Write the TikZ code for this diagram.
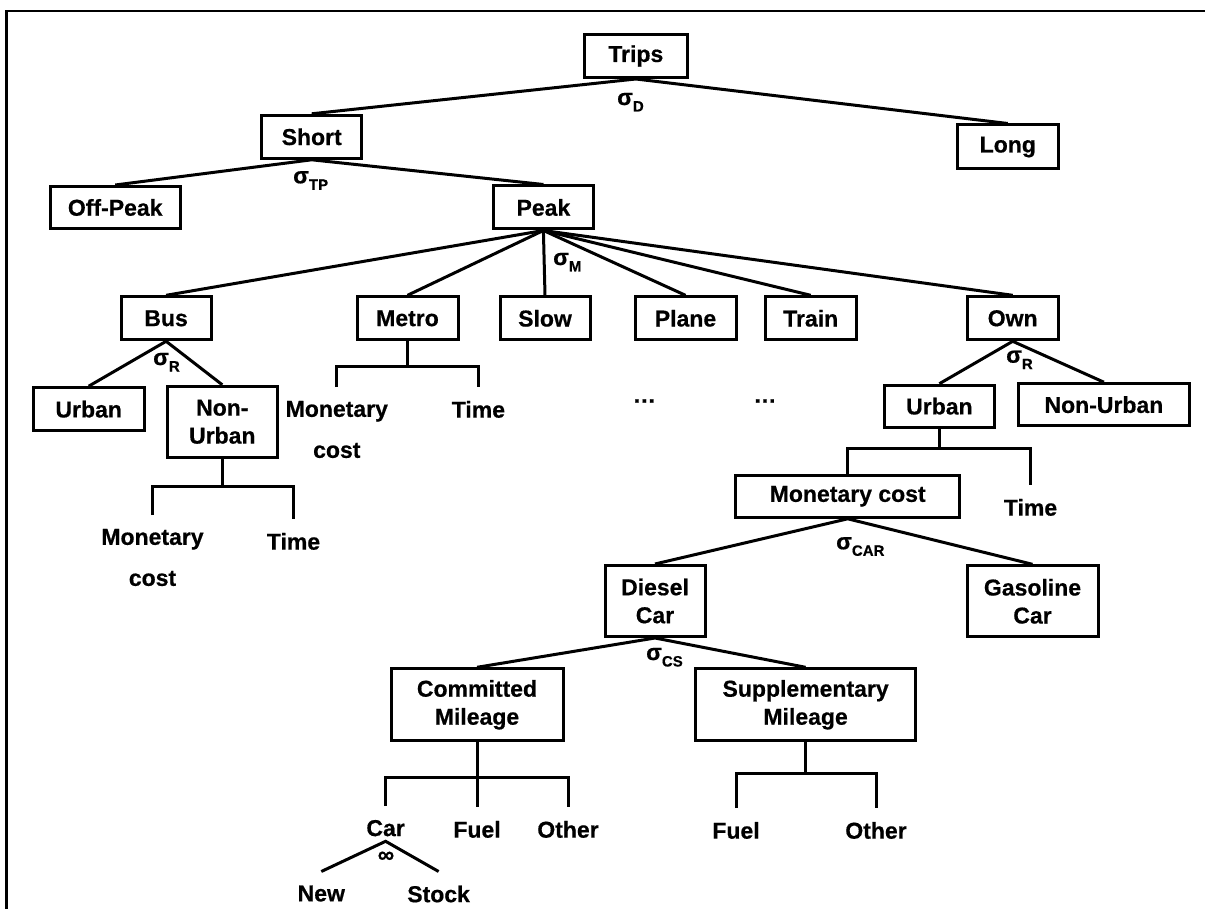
\documentclass[tikz,border=0pt]{standalone}
\usepackage{fontspec}
\setmainfont{Liberation Sans}[BoldFeatures={FakeBold=0.6}]
\newcommand{\fs}{\fontsize{23}{28}\selectfont\bfseries}
\newcommand{\fst}{\fontsize{23}{41}\selectfont\bfseries}
\newcommand{\sgm}[1]{σ\raisebox{-6.5pt}{\fontsize{15}{15}\selectfont\bfseries #1}}
\tikzset{
  bx/.style={draw, line width=3pt, inner sep=0pt, font=\fs, align=center},
  txt/.style={inner sep=0pt, outer ysep=14pt, font=\fst, align=center, anchor=north},
  lbl/.style={inner sep=0pt, font=\fs, anchor=base west},
  ln/.style={line width=3pt},
}
\begin{document}
\begin{tikzpicture}[x=1pt,y=-1pt]
\useasboundingbox (0,0) rectangle (1205,909);
\draw[line width=2.5pt] (1205,11) -- (6.5,11) -- (6.5,909);

% boxes
\node[bx, minimum width=103pt, minimum height=43pt] (trips) at (635.8,56) {Trips};
\node[bx, minimum width=100pt, minimum height=43pt] (short) at (311.7,136.8) {Short};
\node[bx, minimum width=101pt, minimum height=44pt] (long) at (1007.8,147) {Long};
\node[bx, minimum width=130pt, minimum height=42pt] (offpeak) at (115.2,207.5) {Off-Peak};
\node[bx, minimum width=100pt, minimum height=43pt] (peak) at (543.4,207.5) {Peak};
\node[bx, minimum width=90pt, minimum height=43pt] (bus) at (166.1,318.3) {Bus};
\node[bx, minimum width=101pt, minimum height=43pt] (metro) at (407.5,318.3) {Metro};
\node[bx, minimum width=90pt, minimum height=43pt] (slow) at (545,318.3) {Slow};
\node[bx, minimum width=101pt, minimum height=43pt] (plane) at (685.5,318.3) {Plane};
\node[bx, minimum width=91pt, minimum height=43pt] (train) at (810.7,318.3) {Train};
\node[bx, minimum width=91pt, minimum height=43pt] (own) at (1012.7,318.3) {Own};
\node[bx, minimum width=111pt, minimum height=43pt] (burban) at (88.7,409.2) {Urban};
\node[bx, minimum width=110pt, minimum height=71pt] (bnonurban) at (222.3,421.8) {Non-\\Urban};
\node[bx, minimum width=110pt, minimum height=42pt] (ourban) at (939.4,406.2) {Urban};
\node[bx, minimum width=171pt, minimum height=42pt] (ononurban) at (1103.9,404.7) {Non-Urban};
\node[bx, minimum width=224pt, minimum height=42pt] (mc) at (847.7,496.3) {Monetary cost};
\node[bx, minimum width=100pt, minimum height=71pt] (diesel) at (655,601) {Diesel\\Car};
\node[bx, minimum width=131pt, minimum height=71pt] (gasoline) at (1032.5,601.3) {Gasoline\\Car};
\node[bx, minimum width=172pt, minimum height=72pt] (committed) at (477,704.8) {Committed\\Mileage};
\node[bx, minimum width=220pt, minimum height=72pt] (supp) at (805.6,704.8) {Supplementary\\Mileage};

% plain text leaves
\node[txt] (bmc) at (152.5,515) {Monetary\\cost};
\node[txt] (btime) at (293.5,519) {Time};
\node[txt] (mmc) at (336.8,387) {Monetary\\cost};
\node[txt] (mtime) at (478.4,387) {Time};
\node[txt] (otime) at (1030.5,485) {Time};
\node[txt] (car) at (385.6,806) {Car};
\node[txt] (fuel1) at (477,807) {Fuel};
\node[txt] (other1) at (568,807) {Other};
\node[txt] (fuel2) at (736,808) {Fuel};
\node[txt] (other2) at (876,808) {Other};
\node[txt] (new) at (321.3,871.5) {New};
\node[txt] (stock) at (438.6,871.5) {Stock};
\node[inner sep=0pt, font=\fs] (dots1) at (644.4,401) {…};
\node[inner sep=0pt, font=\fs] (dots2) at (765,401) {…};

% labels
\node[lbl] (sD) at (617,105) {\sgm{D}};
\node[lbl] (sTP) at (293,183.3) {\sgm{TP}};
\node[lbl] (sM) at (553,265) {\sgm{M}};
\node[lbl] (sR1) at (153,365) {\sgm{R}};
\node[lbl] (sR2) at (1006,362.7) {\sgm{R}};
\node[lbl] (sCAR) at (836,549.3) {\sgm{CAR}};
\node[lbl] (sCS) at (646,660) {\sgm{CS}};
\node[inner sep=0pt, font=\fs] (inf) at (386,857) {∞};

% connectors
\draw[ln] (short.north) -- (trips.south) -- (long.north);
\draw[ln] (offpeak.north) -- (short.south) -- (peak.north);
\foreach \c in {bus,metro,slow,plane,train,own} \draw[ln] (peak.south) -- (\c.north);
\draw[ln] (burban.north) -- (bus.south) -- (bnonurban.north);
\draw[ln] (ourban.north) -- (own.south) -- (ononurban.north);
\draw[ln] (diesel.north) -- (mc.south) -- (gasoline.north);
\draw[ln] (committed.north) -- (diesel.south) -- (supp.north);
\draw[ln] (new.north) -- ([yshift=9pt]car.south) -- (stock.north);

\coordinate (b1) at (222.3,486.7);
\draw[ln] (bnonurban.south) -- (b1);
\draw[ln] (bmc.north) |- (b1) -| (btime.north);
\coordinate (b2) at (407.5,366.5);
\draw[ln] (metro.south) -- (b2);
\draw[ln] (mmc.north) |- (b2) -| (mtime.north);
\coordinate (b3) at (939.4,448.3);
\draw[ln] (ourban.south) -- (b3);
\draw[ln] (mc.north) |- (b3) -| (otime.north);
\coordinate (b4) at (477,777.3);
\draw[ln] (committed.south) -- (fuel1.north);
\draw[ln] (car.north) |- (b4) -| (other1.north);
\coordinate (b5) at (805.6,773.3);
\draw[ln] (supp.south) -- (b5);
\draw[ln] (fuel2.north) |- (b5) -| (other2.north);
\end{tikzpicture}
\end{document}
